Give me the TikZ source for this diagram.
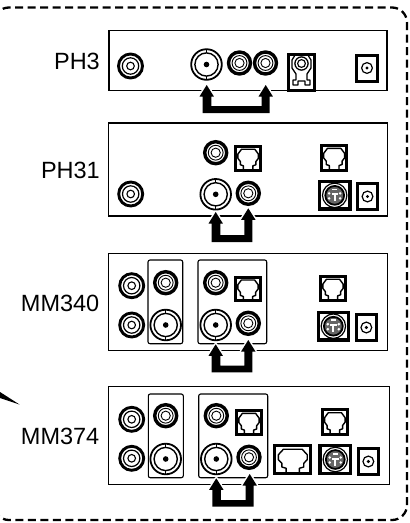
\documentclass[tikz,border=0pt]{standalone}
\usepackage{fontspec}
\setmainfont{Liberation Sans}
\usetikzlibrary{calc}
\tikzset{
  x=1pt,y=-1pt,
  panel/.style={draw=black,line width=1.1pt,fill=white,rectangle,inner sep=0pt},
  group/.style={draw=black,line width=1.1pt,rounded corners=2pt},
  lbl/.style={font=\fontsize{23.5}{26}\selectfont,anchor=base east,inner sep=0pt},
  boxjack/.style={draw=black,line width=3pt,fill=white},
  frame/.style={draw=black,line width=2.3pt,dash pattern=on 8pt off 4.5pt,rounded corners=15pt},
}
% light RCA
\newcommand{\lrca}[2]{%
  \draw[line width=2.9pt] (#1,#2) circle[radius=12];
  \draw[line width=1.2pt] (#1,#2) circle[radius=8.2];
  \draw[line width=1.1pt] (#1,#2) circle[radius=3.8];}
% dark RCA
\newcommand{\drca}[2]{%
  \draw[line width=3.4pt] (#1,#2) circle[radius=11];
  \draw[line width=0.9pt] (#1,#2) circle[radius=7.4];
  \draw[line width=0.9pt] (#1,#2) circle[radius=4.6];}
% BNC
\newcommand{\bnc}[2]{%
  \draw[line width=1.8pt] (#1,#2) circle[radius=15.3];
  \draw[line width=1.4pt] (#1,#2) circle[radius=11.6];
  \fill (#1,#2) circle[radius=2.8];
  \draw[line width=1.4pt] (#1,#2) ++(0,-15.5) -- ++(0,3.5) (#1,#2) ++(0,15.5) -- ++(0,-3.5);}
% DC jack: x1 y1 x2 y2
\newcommand{\dcjack}[4]{%
  \draw[boxjack] (#1+1.5,#2+1.5) rectangle (#3-1.5,#4-1.5);
  \draw[line width=1.2pt] ($(#1,#2)!0.5!(#3,#4)$) circle[radius=5.4];
  \fill ($(#1,#2)!0.5!(#3,#4)$) circle[radius=1.7];}
% phone jack
\newcommand{\phjack}[4]{%
  \draw[boxjack] (#1+1.5,#2+1.5) rectangle (#3-1.5,#4-1.5);
  \pgfmathsetmacro{\jw}{#3-#1}\pgfmathsetmacro{\jh}{#4-#2}
  \begin{scope}[shift={(#1,#2)},x=\jw pt,y=-\jh pt]
  \draw[line width=1.4pt,line join=round]
    (.33,.93)--(.33,.78)--(.22,.74)--(.22,.62)--(.13,.5)--(.13,.34)--(.26,.16)
    --(.74,.16)--(.87,.34)--(.87,.5)--(.78,.62)--(.78,.74)--(.67,.78)--(.67,.93);
  \end{scope}}
% S-video
\newcommand{\svid}[4]{%
  \draw[line width=3.4pt,fill=white] (#1+1.7,#2+1.7) rectangle (#3-1.7,#4-1.7);
  \coordinate (c) at ($(#1,#2)!0.5!(#3,#4)$);
  \draw[line width=1.2pt] (c) circle[radius=12.2];
  \draw[line width=1.8pt,fill=black!60] (c) circle[radius=9.4];
  \foreach \dx/\dy in {-5.5/-2,5.5/-2,-5.5/3,5.5/3}{\fill[white] ($(c)+(\dx,\dy)$) circle[radius=1.4];}
  \fill[white] ($(c)+(-2.5,-6.8)$) rectangle ($(c)+(2.5,-5)$);
  \fill[white] ($(c)+(-3.2,-2)$) rectangle ($(c)+(3.2,0)$);
  \fill[white] ($(c)+(-1,-2)$) rectangle ($(c)+(1,6)$);}
% jumper: left x, tip y, right x, tip y, bar top, bar bottom
\newcommand{\jumper}[6]{%
  \coordinate (jl) at (#1,#2); \coordinate (jr) at (#3,#4);
  \def\jp{(jl) -- ($(jl)+(7.2,11.5)$) -- ($(jl)+(4.6,11.5)$) -- (#1+4.6,#5) -- (#3-4,#5)
     -- ($(jr)+(-4,11.5)$) -- ($(jr)+(-7.2,11.5)$) -- (jr) -- ($(jr)+(7.2,11.5)$) -- ($(jr)+(4,11.5)$)
     -- (#3+4,#6) -- (#1-4,#6) -- ($(jl)+(-4,11.5)$) -- ($(jl)+(-7.2,11.5)$) -- cycle}
  \draw[white,line width=3pt,line join=round] \jp;
  \fill[black] \jp;}
\begin{document}
\begin{tikzpicture}
\useasboundingbox (0,0) rectangle (410,523);
\clip (0,0) rectangle (410,523);
\draw[frame] (-6,7.5) rectangle (407,520);
\fill (0,392) -- (19.5,404.5) -- (0,398) -- cycle;

% PH3
\node[panel,minimum width=278pt,minimum height=59.5pt] (ph3) at (248,60.5) {};
\node[lbl] (lph3) at (100,69.5) {PH3};
\lrca{130.5}{66}
\bnc{206.5}{64.5}
\drca{239.5}{63}
\drca{265.5}{63}
\draw[boxjack] (288.5,54.5) rectangle (314.8,90.5);
\draw[line width=1.3pt,line join=round] (294.5,56)--(292,60)--(292,68)--(296,74)--(296,80)--(293,80)--(293,85)--(298,85)--(298,81)--(305,81)--(305,85)--(310,85)--(310,80)--(307,80)--(307,74)--(311,68)--(311,60)--(308.5,56);
\draw[line width=1.3pt] (301.5,63.5) circle[radius=6.6];
\draw[line width=1.1pt] (301.5,63.5) circle[radius=3.9];
\dcjack{355}{53.5}{379}{82.5}
\jumper{206.7}{85}{265.7}{85}{106}{113}

% PH31
\node[panel,minimum width=278.5pt,minimum height=93pt] (ph31) at (248,169.5) {};
\node[lbl] (lph31) at (100,178.7) {PH31};
\lrca{130.7}{194}
\drca{215.7}{152.7}
\phjack{234.3}{145}{262}{171.7}
\bnc{215.7}{194.3}
\drca{248.3}{193.3}
\phjack{320}{144}{348.3}{171.7}
\svid{317.7}{180}{351.7}{210.7}
\dcjack{356}{182.3}{379}{210.7}
\jumper{215.7}{212}{248.3}{208.3}{235}{242}

% MM340
\node[panel,minimum width=278.5pt,minimum height=97.7pt] (mm340) at (248,301.9) {};
\node[lbl] (lmm340) at (99.5,311.2) {MM340};
\draw[group] (148,260) rectangle (182.7,343.7);
\draw[group] (198,260) rectangle (266.7,343.7);
\lrca{131.7}{285.7}
\lrca{131.7}{325}
\drca{165.7}{282.7}
\bnc{165.7}{325}
\drca{215.7}{282.7}
\phjack{234.3}{275.7}{261.7}{302.3}
\bnc{215.7}{325}
\drca{248.3}{323.3}
\phjack{319.3}{275}{346.7}{301.7}
\svid{316.7}{310.7}{350}{341.7}
\dcjack{355}{313.3}{377.7}{341.7}
\jumper{215.7}{344.3}{248.3}{340}{365.7}{372.3}

% MM374
\node[panel,minimum width=280.5pt,minimum height=98.7pt] (mm374) at (249,435.4) {};
\node[lbl] (lmm374) at (99.5,444) {MM374};
\draw[group] (148.3,394) rectangle (183.3,477.7);
\draw[group] (198.7,394) rectangle (267.7,477.7);
\lrca{131.7}{419.3}
\lrca{131.7}{458.3}
\drca{165.7}{415.7}
\bnc{165.7}{459}
\drca{216.3}{415.7}
\phjack{235.3}{409}{262.7}{436}
\bnc{216.3}{459}
\drca{249}{457.3}
\phjack{321}{408.3}{348.7}{436}
\phjack{273.3}{444.3}{312.3}{475}
\svid{318.3}{444}{352.3}{475}
\dcjack{356.7}{447.3}{380}{475.7}
\jumper{216.3}{478.3}{249.7}{474}{500}{506.7}
\end{tikzpicture}
\end{document}
